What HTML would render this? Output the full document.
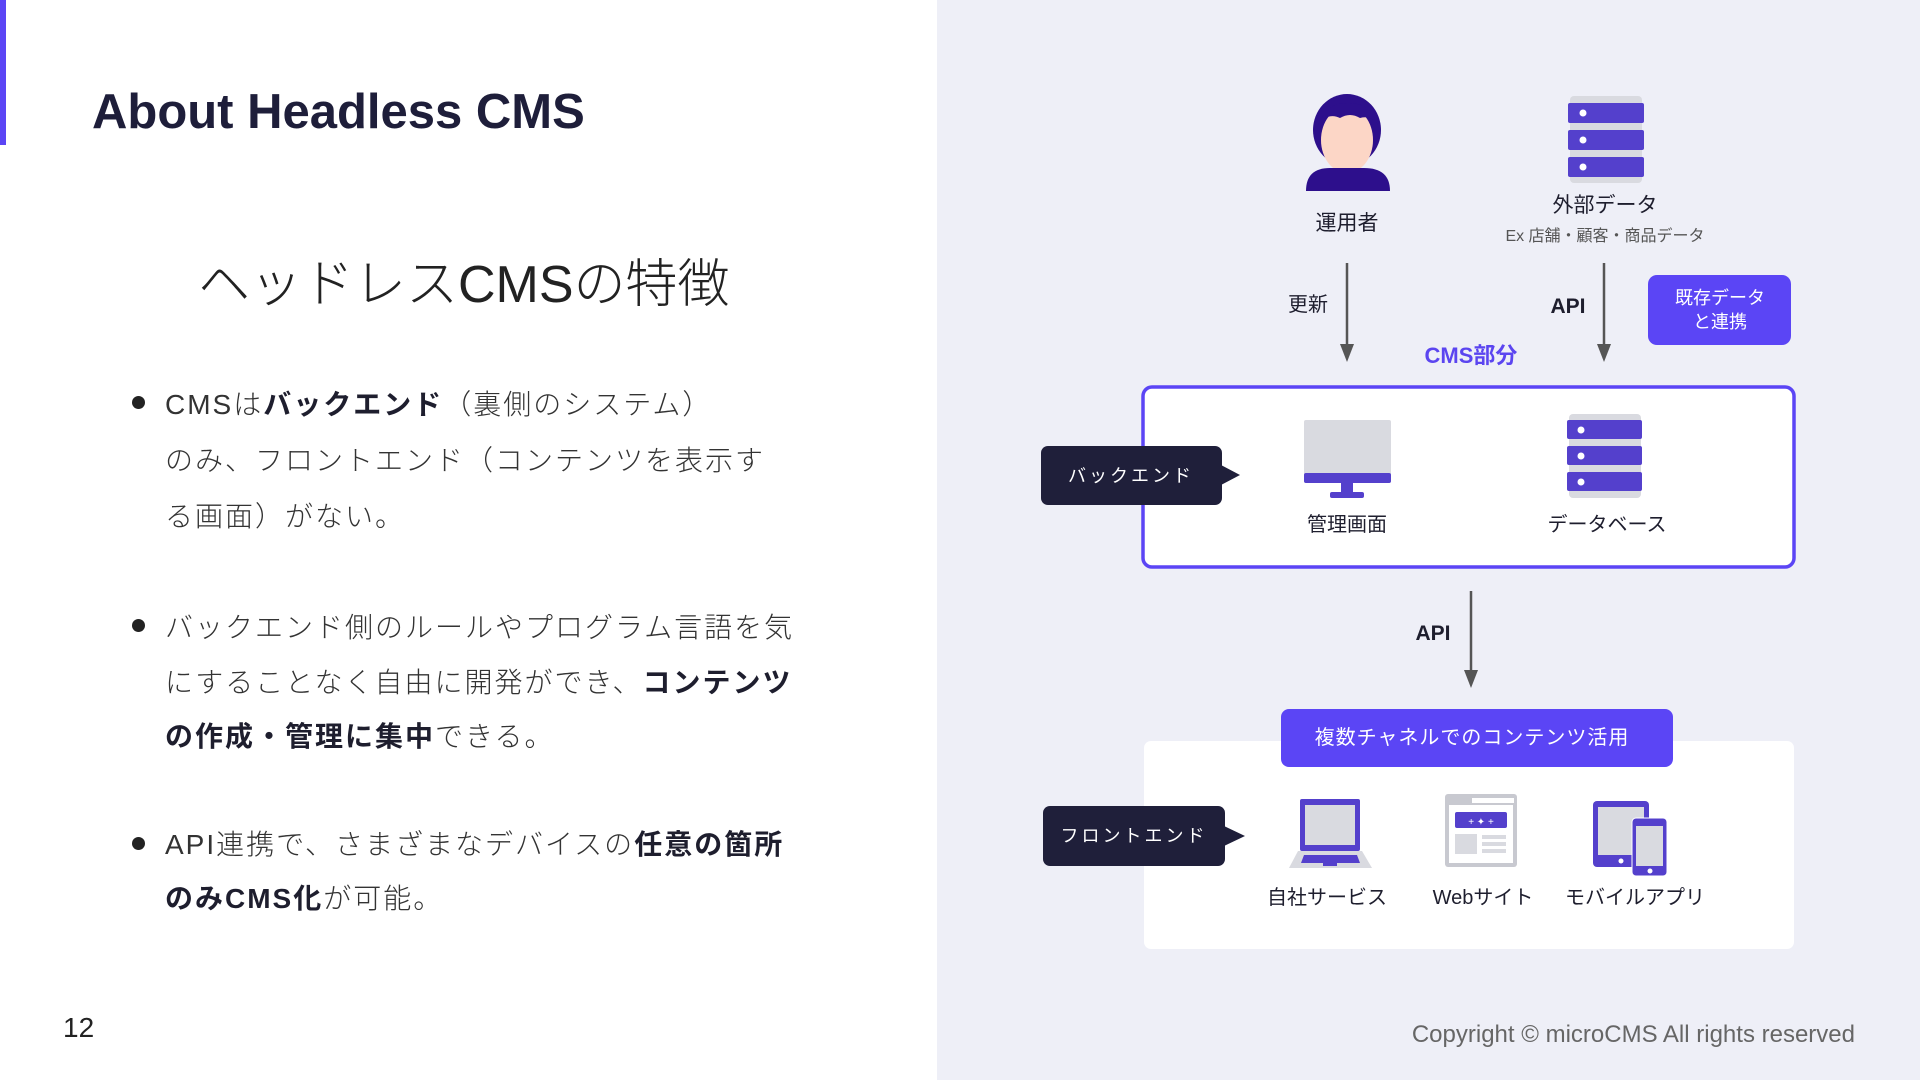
<!DOCTYPE html>
<html><head><meta charset="utf-8">
<style>
*{margin:0;padding:0;box-sizing:border-box}
body{width:1920px;height:1080px;position:relative;overflow:hidden;background:#fff;font-family:"Liberation Sans","Noto Sans CJK JP",sans-serif;color:#1e1e2e}
.l{position:absolute;white-space:nowrap}
#right{position:absolute;left:937px;top:0;width:983px;height:1080px;background:#eeeff7}
.bul{position:absolute;left:132px;width:13px;height:13px;border-radius:50%;background:#222}
.tx{font-size:28px;color:#333;letter-spacing:2px;font-weight:300}
b{font-weight:700;color:#1e1e2e}
</style></head><body>
<div style="position:absolute;left:0;top:0;width:6px;height:145px;background:#5b45f5"></div>
<div class="l" style="left:92px;top:84px;font-size:49px;font-weight:700;color:#1e1e3a">About Headless CMS</div>
<div class="l" style="left:198px;top:242px;font-size:52px;font-weight:300;color:#222;letter-spacing:0px">ヘッドレスCMSの特徴</div>

<div class="bul" style="top:396px"></div>
<div class="l tx" style="left:165px;top:383px">CMSは<b>バックエンド</b>（裏側のシステム）</div>
<div class="l tx" style="left:165px;top:439px">のみ、フロントエンド（コンテンツを表示す</div>
<div class="l tx" style="left:165px;top:495px">る画面）がない。</div>

<div class="bul" style="top:619px"></div>
<div class="l tx" style="left:165px;top:606px">バックエンド側のルールやプログラム言語を気</div>
<div class="l tx" style="left:165px;top:661px">にすることなく自由に開発ができ、<b>コンテンツ</b></div>
<div class="l tx" style="left:165px;top:715px"><b>の作成・管理に集中</b>できる。</div>

<div class="bul" style="top:837px"></div>
<div class="l tx" style="left:165px;top:823px">API連携で、さまざまなデバイスの<b>任意の箇所</b></div>
<div class="l tx" style="left:165px;top:877px"><b>のみCMS化</b>が可能。</div>

<div class="l" style="left:63px;top:1012px;font-size:28px;color:#222">12</div>

<div id="right"></div>
<svg style="position:absolute;left:0;top:0" width="1920" height="1080" font-family="Liberation Sans, Noto Sans CJK JP, sans-serif">
<!-- person -->
<ellipse cx="1347" cy="130" rx="34" ry="36" fill="#2d0f8c"/>
<ellipse cx="1347" cy="140" rx="26" ry="33" fill="#fcd6c6"/>
<path d="M1318,125 Q1330,100 1347,104 Q1368,100 1378,125 Q1372,115 1360,118 Q1350,112 1340,118 Q1328,112 1318,125Z" fill="#2d0f8c"/>
<rect x="1340" y="164" width="14" height="10" fill="#fcd6c6"/>
<path d="M1306,191 Q1306,168 1330,168 L1364,168 Q1390,168 1390,191 Z" fill="#2d0f8c"/>
<text x="1347" y="230" font-size="21" text-anchor="middle" fill="#1e1e2e">運用者</text>
<!-- ext server -->
<rect x="1570" y="96" width="72" height="87" rx="4" fill="#d9dae0"/>
<rect x="1568" y="103" width="76" height="20" rx="2" fill="#5440cc"/>
<rect x="1568" y="130" width="76" height="20" rx="2" fill="#5440cc"/>
<rect x="1568" y="157" width="76" height="20" rx="2" fill="#5440cc"/>
<circle cx="1583" cy="113" r="3.5" fill="#fff"/><circle cx="1583" cy="140" r="3.5" fill="#fff"/><circle cx="1583" cy="167" r="3.5" fill="#fff"/>
<text x="1605" y="212" font-size="21" text-anchor="middle" fill="#1e1e2e">外部データ</text>
<text x="1605" y="241" font-size="16" text-anchor="middle" fill="#555">Ex 店舗・顧客・商品データ</text>
<!-- arrows -->
<line x1="1347" y1="263" x2="1347" y2="346" stroke="#555" stroke-width="2.5"/>
<path d="M1340,344 L1354,344 L1347,362Z" fill="#555"/>
<text x="1308" y="311" font-size="20" text-anchor="middle" fill="#1e1e2e">更新</text>
<line x1="1604" y1="263" x2="1604" y2="346" stroke="#555" stroke-width="2.5"/>
<path d="M1597,344 L1611,344 L1604,362Z" fill="#555"/>
<text x="1568" y="313" font-size="21" font-weight="700" text-anchor="middle" fill="#1e1e2e">API</text>
<rect x="1648" y="275" width="143" height="70" rx="9" fill="#5b45f5"/>
<text x="1720" y="304" font-size="18" text-anchor="middle" fill="#fff">既存データ</text>
<text x="1720" y="328" font-size="18" text-anchor="middle" fill="#fff">と連携</text>
<text x="1471" y="363" font-size="22" font-weight="700" text-anchor="middle" fill="#5b45f0">CMS部分</text>
<!-- CMS box -->
<rect x="1143" y="387" width="651" height="180" rx="9" fill="#fff" stroke="#5b45f5" stroke-width="3.5"/>
<rect x="1041" y="446" width="181" height="59" rx="7" fill="#1f1f3a"/>
<path d="M1221,465 L1240,475 L1221,485Z" fill="#1f1f3a"/>
<text x="1131" y="482" font-size="18" text-anchor="middle" fill="#fff" letter-spacing="3">バックエンド</text>
<!-- monitor -->
<rect x="1304" y="420" width="87" height="63" rx="2" fill="#d9dae0"/>
<rect x="1304" y="473" width="87" height="10" rx="2" fill="#5440cc"/>
<rect x="1341" y="483" width="12" height="10" fill="#5440cc"/>
<rect x="1330" y="492" width="34" height="6" rx="2" fill="#5440cc"/>
<text x="1347" y="531" font-size="20" text-anchor="middle" fill="#1e1e2e">管理画面</text>
<!-- db -->
<rect x="1569" y="414" width="72" height="84" rx="4" fill="#d9dae0"/>
<rect x="1567" y="420" width="75" height="19" rx="2" fill="#5440cc"/>
<rect x="1567" y="446" width="75" height="19" rx="2" fill="#5440cc"/>
<rect x="1567" y="472" width="75" height="19" rx="2" fill="#5440cc"/>
<circle cx="1581" cy="430" r="3.5" fill="#fff"/><circle cx="1581" cy="456" r="3.5" fill="#fff"/><circle cx="1581" cy="482" r="3.5" fill="#fff"/>
<text x="1607" y="531" font-size="20" text-anchor="middle" fill="#1e1e2e">データベース</text>
<!-- arrow 3 -->
<line x1="1471" y1="591" x2="1471" y2="672" stroke="#555" stroke-width="2.5"/>
<path d="M1464,670 L1478,670 L1471,688Z" fill="#555"/>
<text x="1433" y="640" font-size="21" font-weight="700" text-anchor="middle" fill="#1e1e2e">API</text>
<!-- front box -->
<rect x="1144" y="741" width="650" height="208" rx="7" fill="#fff"/>
<rect x="1281" y="709" width="392" height="58" rx="8" fill="#5b45f5"/>
<text x="1472" y="744" font-size="20" text-anchor="middle" fill="#fff" letter-spacing="1">複数チャネルでのコンテンツ活用</text>
<rect x="1043" y="806" width="182" height="60" rx="7" fill="#1f1f3a"/>
<path d="M1224,826 L1245,836 L1224,846Z" fill="#1f1f3a"/>
<text x="1134" y="842" font-size="18" text-anchor="middle" fill="#fff" letter-spacing="3">フロントエンド</text>
<!-- laptop -->
<rect x="1300" y="799" width="60" height="52" rx="2" fill="#5440cc"/>
<rect x="1305" y="805" width="50" height="40" fill="#d9dae0"/>
<path d="M1298,851 L1362,851 L1372,868 L1289,868Z" fill="#d9dae0"/>
<path d="M1304,855 L1357,855 L1360,863 L1301,863Z" fill="#5440cc"/>
<rect x="1323" y="863" width="14" height="3" fill="#5440cc"/>
<text x="1327" y="904" font-size="20" text-anchor="middle" fill="#1e1e2e">自社サービス</text>
<!-- web -->
<rect x="1445" y="794" width="72" height="73" rx="3" fill="#c8c9d0"/>
<rect x="1449" y="805" width="64" height="58" fill="#fff"/>
<rect x="1472" y="798" width="42" height="5" fill="#fff"/>
<rect x="1455" y="812" width="52" height="16" rx="2" fill="#5440cc"/>
<text x="1481" y="825" font-size="10" text-anchor="middle" fill="#fff">+ ✦ +</text>
<rect x="1455" y="834" width="22" height="20" fill="#d9dae0"/>
<rect x="1482" y="835" width="24" height="4" fill="#d9dae0"/><rect x="1482" y="842" width="24" height="4" fill="#d9dae0"/><rect x="1482" y="849" width="24" height="4" fill="#d9dae0"/>
<text x="1483" y="904" font-size="20" text-anchor="middle" fill="#1e1e2e">Webサイト</text>
<!-- mobile -->
<rect x="1593" y="801" width="56" height="66" rx="4" fill="#5440cc"/>
<rect x="1598" y="807" width="46" height="48" fill="#d9dae0"/>
<circle cx="1621" cy="861" r="2.5" fill="#fff"/>
<rect x="1632" y="818" width="35" height="58" rx="4" fill="#5440cc" stroke="#fff" stroke-width="1"/>
<rect x="1636" y="826" width="27" height="40" fill="#d9dae0"/>
<circle cx="1650" cy="871" r="2.5" fill="#fff"/>
<text x="1635" y="904" font-size="20" text-anchor="middle" fill="#1e1e2e">モバイルアプリ</text>
<text x="1855" y="1042" font-size="24" text-anchor="end" fill="#666" font-weight="300">Copyright © microCMS All rights reserved</text>
</svg>
</body></html>
